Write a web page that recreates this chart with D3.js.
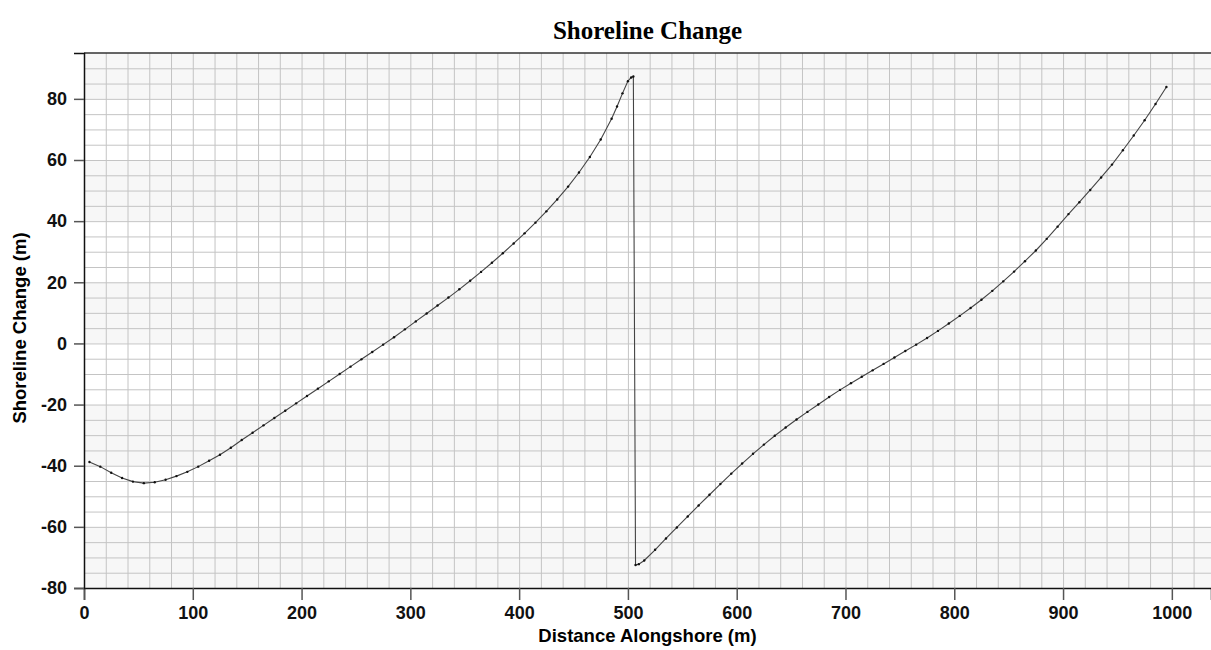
<!DOCTYPE html>
<html>
<head>
<meta charset="utf-8">
<script src="https://cdn.jsdelivr.net/npm/d3@7"></script>
<style>
  body { margin: 0; background: #fff; }
  .tick text { font-family: "Liberation Sans", Arial, sans-serif; font-weight: bold; font-size: 18px; fill: #111; }
</style>
</head>
<body>
<script>
// shoreline change values
var xVals = [5,15,25,35,45,55,65,75,85,95,105,115,125,135,145,155,165,175,185,195,
             205,215,225,235,245,255,265,275,285,295,305,315,325,335,345,355,365,375,385,395,
             405,415,425,435,445,455,465,475,485,490,495,500,503,505,
             507,510,515,525,535,545,555,565,575,585,595,605,615,625,635,645,655,665,675,685,695,
             705,715,725,735,745,755,765,775,785,795,805,815,825,835,845,855,865,875,885,895,
             905,915,925,935,945,955,965,975,985,995];
var yVals = [-38.8,-40.3,-42.3,-44.0,-45.2,-45.7,-45.4,-44.6,-43.4,-42.0,-40.3,-38.4,-36.4,-34.1,-31.6,-29.2,-26.8,-24.4,-22.0,-19.6,
             -17.2,-14.8,-12.4,-10.0,-7.6,-5.2,-2.8,-0.4,2.0,4.6,7.2,9.8,12.4,15.0,17.7,20.5,23.4,26.4,29.5,32.7,
             36.0,39.5,43.2,47.1,51.3,55.9,61.0,66.7,73.5,77.5,81.8,85.8,87.0,87.3,
             -72.5,-72.2,-71.0,-67.5,-63.8,-60.2,-56.6,-53.0,-49.5,-46.0,-42.6,-39.3,-36.1,-33.1,-30.2,-27.5,-24.9,-22.4,-20.0,-17.5,-15.2,
             -13.0,-10.9,-8.8,-6.7,-4.6,-2.5,-0.4,1.8,4.1,6.5,9.0,11.6,14.3,17.2,20.3,23.5,26.9,30.4,34.2,38.2,
             42.3,46.2,50.2,54.3,58.5,63.2,68.0,73.0,78.3,83.9];
var xTicks = [0,100,200,300,400,500,600,700,800,900,1000];
var yTicks = [-80,-60,-40,-20,0,20,40,60,80];

var data = xVals.map(function(d, i) { return {x: d, y: yVals[i]}; });

var W = 1211, H = 650;
var margin = {top: 53, right: 0, bottom: 62, left: 84},
    width = W - margin.left - margin.right,
    height = H - margin.top - margin.bottom;

var svg = d3.select("body").append("svg")
    .attr("width", W)
    .attr("height", H);

var g = svg.append("g")
    .attr("transform", "translate(" + margin.left + "," + margin.top + ")");

var x = d3.scaleLinear().domain([0, 1036]).range([0, width]);
var y = d3.scaleLinear().domain([-80, 95]).range([height, 0]);

// alternating background bands
var bands = [[-80,-60],[-40,-20],[0,20],[40,60],[80,95]];
g.selectAll(".band").data(bands).enter().append("rect")
    .attr("x", 0)
    .attr("width", width)
    .attr("y", function(d) { return y(d[1]); })
    .attr("height", function(d) { return y(d[0]) - y(d[1]); })
    .style("fill", "#f7f7f7");

// grid lines
g.append("g")
    .attr("class", "grid")
    .attr("transform", "translate(0," + height + ")")
    .call(d3.axisBottom(x).tickValues(d3.range(20, 1036, 20)).tickSize(-height).tickFormat(""))
    .call(function(s) { s.select(".domain").remove(); })
    .selectAll("line").style("stroke", "#c4c4c4");

g.append("g")
    .attr("class", "grid")
    .call(d3.axisLeft(y).tickValues(d3.range(-75, 95, 5)).tickSize(-width).tickFormat(""))
    .call(function(s) { s.select(".domain").remove(); })
    .selectAll("line").style("stroke", "#c4c4c4");

// top frame line
g.append("line").attr("x1", 0).attr("x2", width).attr("y1", 0).attr("y2", 0)
    .style("stroke", "#333").style("stroke-width", 1.5);

// axes
var fmt = function(d) { return String(d); };

var xAxis = g.append("g")
    .attr("transform", "translate(0," + height + ")")
    .call(d3.axisBottom(x).tickValues(xTicks).tickSize(12).tickPadding(6).tickFormat(fmt));
xAxis.select(".domain").style("stroke", "#111").style("stroke-width", 1.5);
xAxis.selectAll(".tick line").style("stroke", "#555").style("stroke-width", 1.5);

var yAxis = g.append("g")
    .call(d3.axisLeft(y).tickValues(yTicks).tickSize(10).tickPadding(7).tickFormat(fmt));
yAxis.select(".domain").style("stroke", "#111").style("stroke-width", 1.5);
yAxis.selectAll(".tick line").style("stroke", "#555").style("stroke-width", 1.5);

// the curve
var line = d3.line()
    .x(function(d) { return x(d.x); })
    .y(function(d) { return y(d.y); });

g.append("path")
    .datum(data)
    .attr("d", line)
    .style("fill", "none")
    .style("stroke", "#444")
    .style("stroke-width", 1.1);

g.selectAll(".dot").data(data).enter().append("circle")
    .attr("class", "dot")
    .attr("r", 1.2)
    .attr("cx", function(d) { return x(d.x); })
    .attr("cy", function(d) { return y(d.y); })
    .style("fill", "#111");

// titles
svg.append("text")
    .attr("x", margin.left + width / 2)
    .attr("y", 39)
    .style("text-anchor", "middle")
    .style("font-family", "'Liberation Serif', 'Times New Roman', serif")
    .style("font-weight", "bold")
    .style("font-size", "25px")
    .text("Shoreline Change");

svg.append("text")
    .attr("x", margin.left + width / 2)
    .attr("y", 642)
    .style("text-anchor", "middle")
    .style("font-family", "'Liberation Sans', Arial, sans-serif")
    .style("font-weight", "bold")
    .style("font-size", "18.5px")
    .text("Distance Alongshore (m)");

svg.append("text")
    .attr("transform", "translate(26,328) rotate(-90)")
    .style("text-anchor", "middle")
    .style("font-family", "'Liberation Sans', Arial, sans-serif")
    .style("font-weight", "bold")
    .style("font-size", "18.5px")
    .text("Shoreline Change (m)");
</script>
</body>
</html>
